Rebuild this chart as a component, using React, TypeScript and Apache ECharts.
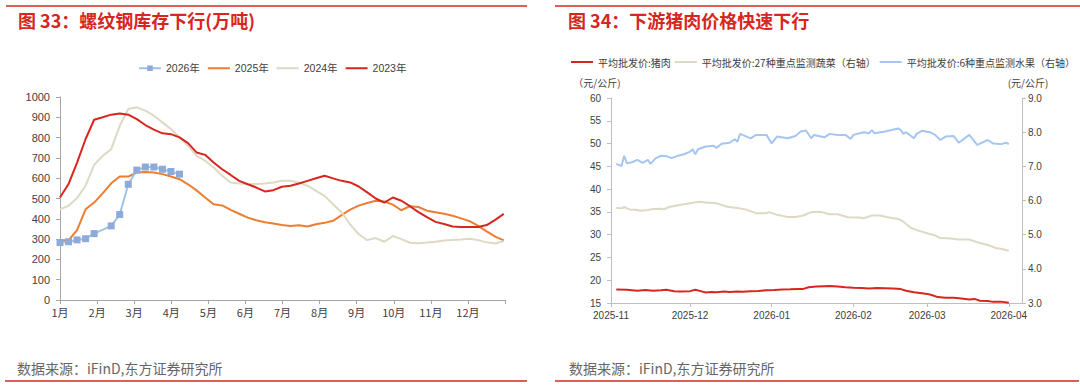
import React, { useEffect, useRef } from 'react';
import * as echarts from 'echarts';

// ---------- Left chart: rebar inventory (万吨), weekly ----------
const monthLabels = ['1月', '2月', '3月', '4月', '5月', '6月', '7月', '8月', '9月', '10月', '11月', '12月'];
const weeks2026 = [0, 1, 2, 3, 4, 6, 7, 8, 9, 10, 11, 12, 13, 14];
const rebar2026 = [283, 287, 296, 302, 327, 365, 421, 570, 640, 655, 655, 644, 633, 620];
const rebar2025 = [294, 294, 344, 447, 480, 525, 575, 608, 608, 628, 631, 628, 620, 608, 595, 570, 540, 505, 472, 466,
  444, 425, 406, 393, 383, 377, 370, 365, 368, 362, 373, 380, 390, 418, 445, 465, 478, 489, 485, 470,
  442, 462, 458, 440, 432, 425, 415, 402, 388, 365, 338, 312, 294];
const rebar2024 = [447, 464, 502, 563, 666, 710, 743, 858, 941, 949, 933, 908, 875, 842, 801, 760, 710, 686, 653, 612,
  579, 574, 571, 571, 574, 579, 587, 587, 579, 563, 538, 513, 472, 431, 373, 324, 295, 305, 287, 315,
  300, 282, 280, 283, 287, 293, 296, 298, 302, 295, 284, 278, 290];
const rebar2023 = [505, 571, 677, 793, 888, 900, 913, 919, 913, 891, 862, 839, 821, 817, 801, 773, 727, 715, 677, 644,
  616, 587, 570, 554, 535, 541, 558, 563, 574, 587, 600, 612, 599, 587, 579, 559, 530, 500, 480, 505,
  489, 462, 433, 408, 385, 374, 362, 360, 360, 360, 369, 395, 424];

// ---------- Right chart: wholesale prices (元/公斤), daily ----------
const monthTicks = ['2025-11', '2025-12', '2026-01', '2026-02', '2026-03', '2026-04'];
const porkDates = ['2025-11-03', '2025-11-07', '2025-11-11', '2025-11-14', '2025-11-17', '2025-11-20', '2025-11-22', '2025-11-25', '2025-11-27',
  '2025-12-01', '2025-12-03', '2025-12-05', '2025-12-07', '2025-12-09', '2025-12-11', '2025-12-14', '2025-12-16', '2025-12-19', '2025-12-21', '2025-12-24', '2025-12-27', '2025-12-30',
  '2026-01-02', '2026-01-05', '2026-01-08', '2026-01-11', '2026-01-13', '2026-01-15', '2026-01-18', '2026-01-21', '2026-01-23', '2026-01-26', '2026-01-29',
  '2026-02-01', '2026-02-04', '2026-02-07', '2026-02-10', '2026-02-13', '2026-02-16', '2026-02-19', '2026-02-21', '2026-02-24', '2026-02-27',
  '2026-03-01', '2026-03-03', '2026-03-05', '2026-03-08', '2026-03-11', '2026-03-14', '2026-03-17', '2026-03-19', '2026-03-21', '2026-03-24', '2026-03-26', '2026-03-29', '2026-04-01'];
const porkPrice = [17.95, 17.9, 17.7, 17.85, 17.7, 17.8, 17.9, 17.6, 17.5,
  17.6, 17.9, 17.6, 17.3, 17.4, 17.35, 17.5, 17.4, 17.5, 17.45, 17.6, 17.65, 17.8,
  17.85, 17.95, 18.0, 18.1, 18.1, 18.45, 18.6, 18.7, 18.75, 18.6, 18.45,
  18.35, 18.3, 18.2, 18.3, 18.25, 18.2, 18.05, 17.7, 17.35, 17.15,
  17.0, 16.7, 16.3, 16.15, 16.15, 16.0, 15.75, 15.9, 15.5, 15.45, 15.25, 15.3, 15.05];
const vegDates = ['2025-11-03', '2025-11-05', '2025-11-06', '2025-11-08', '2025-11-11', '2025-11-12', '2025-11-15', '2025-11-17', '2025-11-20', '2025-11-21', '2025-11-23', '2025-11-27',
  '2025-12-01', '2025-12-04', '2025-12-07', '2025-12-11', '2025-12-15', '2025-12-19', '2025-12-22', '2025-12-26', '2025-12-30', '2025-12-31',
  '2026-01-03', '2026-01-07', '2026-01-10', '2026-01-13', '2026-01-16', '2026-01-20', '2026-01-23', '2026-01-26', '2026-01-30',
  '2026-02-03', '2026-02-05', '2026-02-08', '2026-02-11', '2026-02-14', '2026-02-18', '2026-02-20', '2026-02-23', '2026-02-26',
  '2026-03-02', '2026-03-04', '2026-03-06', '2026-03-10', '2026-03-13', '2026-03-17', '2026-03-20', '2026-03-24', '2026-03-27', '2026-03-29', '2026-04-01'];
const vegPrice = [5.78, 5.77, 5.81, 5.74, 5.72, 5.70, 5.72, 5.75, 5.76, 5.74, 5.81, 5.87,
  5.92, 5.96, 5.94, 5.92, 5.82, 5.78, 5.74, 5.63, 5.63, 5.66,
  5.58, 5.52, 5.52, 5.56, 5.66, 5.66, 5.60, 5.60, 5.51,
  5.50, 5.48, 5.56, 5.56, 5.51, 5.46, 5.38, 5.19, 5.11,
  5.02, 4.98, 4.90, 4.89, 4.86, 4.86, 4.78, 4.70, 4.61, 4.59, 4.53];
const fruitDates = ['2025-11-03', '2025-11-05', '2025-11-06', '2025-11-07', '2025-11-09', '2025-11-11', '2025-11-13', '2025-11-15', '2025-11-16', '2025-11-18', '2025-11-20', '2025-11-22', '2025-11-24', '2025-11-26', '2025-11-29',
  '2025-12-01', '2025-12-02', '2025-12-03', '2025-12-04', '2025-12-07', '2025-12-10', '2025-12-11', '2025-12-13', '2025-12-16', '2025-12-18', '2025-12-19', '2025-12-20', '2025-12-24', '2025-12-26', '2025-12-30',
  '2026-01-01', '2026-01-03', '2026-01-07', '2026-01-10', '2026-01-12', '2026-01-14', '2026-01-16', '2026-01-17', '2026-01-21', '2026-01-23', '2026-01-26', '2026-01-29', '2026-01-31',
  '2026-02-01', '2026-02-05', '2026-02-07', '2026-02-08', '2026-02-09', '2026-02-13', '2026-02-18', '2026-02-19', '2026-02-20', '2026-02-21', '2026-02-24', '2026-02-25', '2026-02-27',
  '2026-03-02', '2026-03-04', '2026-03-06', '2026-03-08', '2026-03-11', '2026-03-13', '2026-03-17', '2026-03-20', '2026-03-24', '2026-03-26', '2026-03-29', '2026-03-31', '2026-04-01'];
const fruitPrice = [7.07, 7.01, 7.31, 7.09, 7.12, 7.19, 7.10, 7.19, 7.07, 7.24, 7.31, 7.30, 7.24, 7.30, 7.36,
  7.43, 7.50, 7.35, 7.50, 7.58, 7.60, 7.54, 7.66, 7.69, 7.79, 7.72, 7.95, 7.82, 7.92, 7.92,
  7.67, 7.87, 7.82, 7.89, 8.02, 8.05, 7.82, 7.92, 7.85, 7.95, 7.92, 7.92, 7.80,
  7.92, 8.00, 7.97, 8.06, 7.97, 8.02, 8.11, 8.06, 7.95, 8.00, 7.82, 7.95, 8.04,
  8.00, 7.92, 7.77, 7.87, 7.89, 7.69, 7.92, 7.63, 7.77, 7.67, 7.65, 7.69, 7.65];

const RED = '#d7261e';
const FONT = '"Liberation Sans", Arial, "Noto Sans CJK SC", sans-serif';
const CJK = '"Noto Sans CJK SC", "Liberation Sans", sans-serif';
const LINE_ICON = 'path://M0 0 H22 V2 H0 Z';

const WEEK_IN_MONTHS = 7 / (365 / 12);
const weekly = (values: number[], weeks?: number[]) =>
  values.map((v, i) => [(weeks ? weeks[i] : i) * WEEK_IN_MONTHS, v]);

const axisDays: string[] = [];
for (let t = Date.UTC(2025, 10, 1); t <= Date.UTC(2026, 3, 6); t += 86400000) {
  axisDays.push(new Date(t).toISOString().slice(0, 10));
}
const daily = (dates: string[], values: number[]) => dates.map((d, i) => [axisDays.indexOf(d), values[i]]);

export default function App() {
  const ref = useRef<HTMLDivElement>(null);
  useEffect(() => {
    if (!ref.current) return;
    const chart = echarts.init(ref.current, undefined, { renderer: 'svg' });
    const axisGray = '#a6a6a6';
    const labelColor = '#404040';
    chart.setOption({
      animation: false,
      backgroundColor: '#fff',
      textStyle: { fontFamily: FONT },
      legend: [
        {
          left: 138, top: 63, padding: 0, itemWidth: 22, itemHeight: 7, itemGap: 8,
          textStyle: { fontSize: 10.5, color: labelColor, fontFamily: FONT },
          data: [
            { name: '2026年' },
            { name: '2025年', icon: LINE_ICON },
            { name: '2024年', icon: LINE_ICON },
            { name: '2023年', icon: LINE_ICON },
          ],
        },
        {
          left: 571, top: 57, padding: 0, width: 509, itemWidth: 22, itemHeight: 7, itemGap: 4,
          textStyle: { fontSize: 10, color: labelColor, fontFamily: CJK },
          data: [
            { name: '平均批发价:猪肉', icon: LINE_ICON },
            { name: '平均批发价:27种重点监测蔬菜（右轴）', icon: LINE_ICON },
            { name: '平均批发价:6种重点监测水果（右轴）', icon: LINE_ICON },
          ],
        },
      ],
      grid: [
        { left: 60, top: 97, width: 445, height: 203 },
        { left: 611, top: 98, width: 411, height: 205 },
      ],
      xAxis: [
        {
          type: 'value', gridIndex: 0, min: 0, max: 12, interval: 1,
          axisLine: { show: true, lineStyle: { color: axisGray } },
          axisTick: { show: true, length: 4, lineStyle: { color: axisGray } },
          splitLine: { show: false },
          axisLabel: {
            fontSize: 11, color: labelColor, margin: 6, fontFamily: CJK,
            formatter: (v: number) => (v < 12 ? monthLabels[v] : ''),
          },
        },
        {
          type: 'category', gridIndex: 1, data: axisDays, boundaryGap: false,
          axisLine: { show: true, lineStyle: { color: '#bfbfbf' } },
          axisTick: { show: true, length: 4, interval: (i: number, v: string) => v.endsWith('-01'), lineStyle: { color: '#bfbfbf' } },
          axisLabel: {
            fontSize: 10, color: labelColor, margin: 7,
            interval: (i: number, v: string) => v.endsWith('-01') && monthTicks.includes(v.slice(0, 7)),
            formatter: (v: string) => v.slice(0, 7),
          },
          splitLine: { show: false },
        },
      ],
      yAxis: [
        {
          type: 'value', gridIndex: 0, min: 0, max: 1000, interval: 100,
          axisLine: { show: true, lineStyle: { color: axisGray } },
          axisTick: { show: true, length: 4, lineStyle: { color: axisGray } },
          splitLine: { show: false },
          axisLabel: { fontSize: 11, color: labelColor, margin: 10, formatter: (v: number) => String(v) },
        },
        {
          type: 'value', gridIndex: 1, min: 15, max: 60, interval: 5, position: 'left',
          axisLine: { show: true, lineStyle: { color: '#bfbfbf' } },
          axisTick: { show: true, length: 4, lineStyle: { color: '#bfbfbf' } },
          splitLine: { show: false },
          axisLabel: { fontSize: 10, color: labelColor, margin: 10 },
        },
        {
          type: 'value', gridIndex: 1, min: 3, max: 9, interval: 1, position: 'right',
          axisLine: { show: true, lineStyle: { color: '#bfbfbf' } },
          axisTick: { show: true, length: 4, lineStyle: { color: '#bfbfbf' } },
          splitLine: { show: false },
          axisLabel: { fontSize: 10, color: labelColor, margin: 6, formatter: (v: number) => v.toFixed(1) },
        },
      ],
      series: [
        {
          name: '2026年', type: 'line', xAxisIndex: 0, yAxisIndex: 0, z: 5,
          data: weekly(rebar2026, weeks2026),
          symbol: 'rect', symbolSize: 7, showSymbol: true,
          lineStyle: { color: '#9dc3e6', width: 2 },
          itemStyle: { color: '#8eaadb' },
        },
        {
          name: '2025年', type: 'line', xAxisIndex: 0, yAxisIndex: 0, symbol: 'none',
          data: weekly(rebar2025), lineStyle: { color: '#ed7d31', width: 2 }, itemStyle: { color: '#ed7d31' },
        },
        {
          name: '2024年', type: 'line', xAxisIndex: 0, yAxisIndex: 0, symbol: 'none',
          data: weekly(rebar2024), lineStyle: { color: '#ddd9c4', width: 2 }, itemStyle: { color: '#ddd9c4' },
        },
        {
          name: '2023年', type: 'line', xAxisIndex: 0, yAxisIndex: 0, symbol: 'none',
          data: weekly(rebar2023), lineStyle: { color: RED, width: 2 }, itemStyle: { color: RED },
        },
        {
          name: '平均批发价:猪肉', type: 'line', xAxisIndex: 1, yAxisIndex: 1, symbol: 'none', z: 4,
          data: daily(porkDates, porkPrice), lineStyle: { color: RED, width: 2 }, itemStyle: { color: RED },
        },
        {
          name: '平均批发价:27种重点监测蔬菜（右轴）', type: 'line', xAxisIndex: 1, yAxisIndex: 2, symbol: 'none',
          data: daily(vegDates, vegPrice), lineStyle: { color: '#ddd9c4', width: 2 }, itemStyle: { color: '#ddd9c4' },
        },
        {
          name: '平均批发价:6种重点监测水果（右轴）', type: 'line', xAxisIndex: 1, yAxisIndex: 2, symbol: 'none',
          data: daily(fruitDates, fruitPrice), lineStyle: { color: '#a4c6f0', width: 2 }, itemStyle: { color: '#a4c6f0' },
        },
      ],
      graphic: [
        { type: 'line', shape: { x1: 6, y1: 6, x2: 527, y2: 6 }, style: { stroke: RED, lineWidth: 1.5 } },
        { type: 'line', shape: { x1: 555, y1: 6, x2: 1080, y2: 6 }, style: { stroke: RED, lineWidth: 1.5 } },
        { type: 'text', x: 18, y: 20, style: { text: '图 33：螺纹钢库存下行(万吨)', fill: RED, font: `bold 18px ${CJK}`, verticalAlign: 'middle' } },
        { type: 'text', x: 568, y: 20, style: { text: '图 34：下游猪肉价格快速下行', fill: RED, font: `bold 18px ${CJK}`, verticalAlign: 'middle' } },
        { type: 'text', x: 597, y: 82, style: { text: '（元/公斤)', fill: labelColor, font: `10px ${CJK}`, align: 'center', verticalAlign: 'middle' } },
        { type: 'text', x: 1028, y: 82, style: { text: '(元/公斤)', fill: labelColor, font: `10px ${CJK}`, align: 'center', verticalAlign: 'middle' } },
        { type: 'text', x: 17, y: 368, style: { text: '数据来源：iFinD,东方证券研究所', fill: '#666666', font: `14px ${CJK}`, verticalAlign: 'middle' } },
        { type: 'text', x: 569, y: 368, style: { text: '数据来源：iFinD,东方证券研究所', fill: '#666666', font: `14px ${CJK}`, verticalAlign: 'middle' } },
        { type: 'line', shape: { x1: 5, y1: 381, x2: 527, y2: 381 }, style: { stroke: RED, lineWidth: 1.5 } },
        { type: 'line', shape: { x1: 555, y1: 381, x2: 1079, y2: 381 }, style: { stroke: RED, lineWidth: 1.5 } },
      ],
    });
    return () => chart.dispose();
  }, []);
  return <div ref={ref} style={{ position: 'fixed', left: 0, top: 0, width: 1080, height: 391 }} />;
}
